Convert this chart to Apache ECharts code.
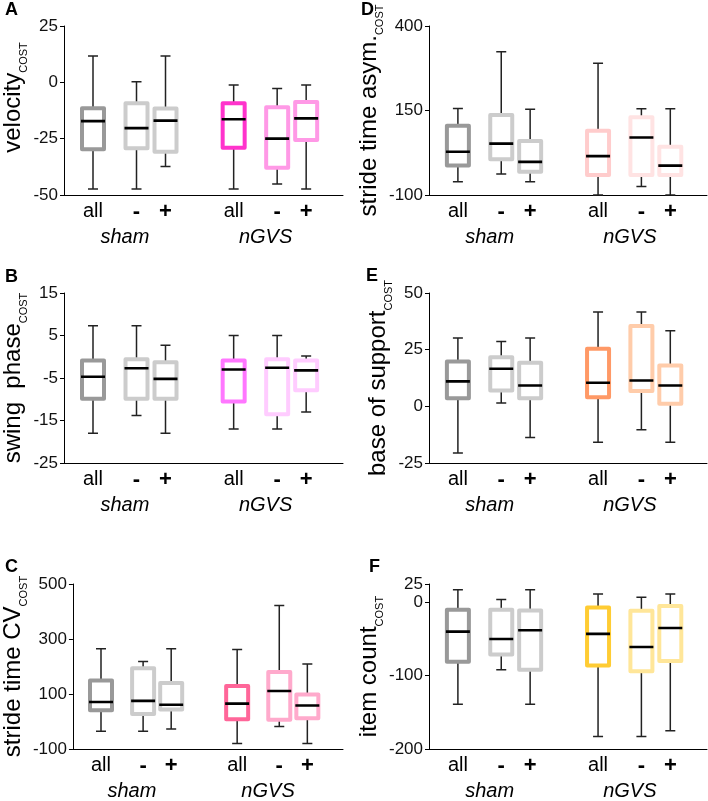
<!DOCTYPE html>
<html><head><meta charset="utf-8">
<script src="https://cdn.jsdelivr.net/npm/echarts@6/dist/echarts.min.js"></script>
<style>html,body{margin:0;padding:0;background:#fff}#c{width:708px;height:801px}</style>
</head><body><div id="c"></div>
<script>
// categories
const groupLabels = ['sham', 'nGVS'];
const condLabels = ['all', '-', '+'];
const xPositions = [1, 2.5, 3.5, 5.85, 7.35, 8.35];
const groupLabelPositions = [2.1, 6.95];
const xMax = 9.62;

// each box: [min, Q1, median, Q3, max]; order sham all,-,+, nGVS all,-,+
const velocity = [
  [-47.3, -29.7, -17.2, -11.5, 11.7],
  [-47.3, -29.3, -20.3, -9.3, 0.3],
  [-37.4, -30.8, -17, -11.6, 11.7],
  [-47.3, -29, -16.4, -9.3, -1.2],
  [-45.1, -37.9, -25, -11.1, -2.7],
  [-47.3, -25.6, -16, -8.7, -1.2]
];
const swingPhase = [
  [-18, -9.9, -4.7, -0.9, 7.3],
  [-13.8, -9.9, -2.7, -0.6, 7.3],
  [-18, -9.9, -5.2, -1.3, 2.7],
  [-17, -10.5, -3.0, -0.9, 5],
  [-17, -13.5, -2.6, -0.6, 5],
  [-13, -7.9, -3.2, -0.9, 0.2]
];
const strideCV = [
  [-35, 41, 71, 149, 265],
  [-35, 27, 75, 194, 218],
  [-27, 44, 61, 140, 265],
  [-80, 8, 65, 129, 262],
  [-18, 6, 111, 180, 422],
  [-80, 12, 58, 98, 209]
];
const strideAsym = [
  [-61, -13, 28, 105, 156],
  [-38, 6, 52, 137, 324],
  [-61, -31, -2, 60, 154],
  [-100, -41, 15, 90, 290],
  [-75, -41, 70, 130, 155],
  [-100, -41, -13, 43, 155]
];
const baseSupport = [
  [-20.6, 3.6, 11, 19.8, 30.1],
  [1.5, 7, 16.6, 21.7, 28.6],
  [-13.8, 3.6, 9.2, 19.2, 30.1],
  [-15.9, 4, 10.4, 25.4, 41.6],
  [-10.3, 6.8, 11.4, 35.4, 41.6],
  [-15.9, 1.1, 9.2, 18, 33.4]
];
const itemCount = [
  [-139, -81, -40, -10, 17],
  [-92, -71, -50, -10, 4],
  [-139, -92, -38, -11, 17],
  [-183, -86, -43, -7, 11.5],
  [-183, -94, -61, -11.5, 7],
  [-175, -80, -35, -5, 11.5]
];

// tick labels
const velocityTicks = [-50, -25, 0, 25];
const swingTicks = [-25, -15, -5, 5, 15];
const cvTicks = [-100, 100, 300, 500];
const asymTicks = [-100, 150, 400];
const bosTicks = [-25, 0, 25, 50];
const itemTicks = [-200, -100, 0, 25];

const FONT = '"Liberation Sans", Arial, Helvetica, sans-serif';
const shamColors = ['#999999', '#cccccc', '#cccccc'];

const panels = [
  { letter: 'A', name: 'velocity', data: velocity, ticks: velocityTicks, col: 0, row: 0, nameGap: 25, namePad: [0, 0, 0, 26], colors: ['#ff33cc', '#ff99e6', '#ff99e6'] },
  { letter: 'B', name: 'swing  phase', data: swingPhase, ticks: swingTicks, col: 0, row: 1, nameGap: 25, namePad: [0, 0, 0, 0], colors: ['#ff77ff', '#ffccff', '#ffccff'] },
  { letter: 'C', name: 'stride time CV', data: strideCV, ticks: cvTicks, col: 0, row: 2, nameGap: 24, namePad: [0, 0, 0, 0], colors: ['#ff6699', '#ffaacc', '#ffaacc'] },
  { letter: 'D', name: 'stride time asym.', data: strideAsym, ticks: asymTicks, col: 1, row: 0, nameGap: 35, namePad: [0, 0, 0, 0], colors: ['#ffcccc', '#ffe3e3', '#ffe3e3'] },
  { letter: 'E', name: 'base of support', data: baseSupport, ticks: bosTicks, col: 1, row: 1, nameGap: 35, namePad: [0, 0, 0, 0], colors: ['#ff9966', '#ffccaa', '#ffccaa'] },
  { letter: 'F', name: 'item count', data: itemCount, ticks: itemTicks, col: 1, row: 2, nameGap: 35, namePad: [0, 0, 0, 0], colors: ['#ffcc33', '#ffe699', '#ffe699'] }
];

const colLeft = [64, 429], colWidth = [279, 278];
const rowTop = [26, 293, 584], rowHeight = [169, 170, 169];
const letterPos = [[5, 1], [5, 268], [5, 558], [361, 1], [366, 267], [369, 558]];

const grids = [], xAxes = [], yAxes = [], series = [], graphics = [];

panels.forEach((p, i) => {
  grids.push({ left: colLeft[p.col], top: rowTop[p.row], width: colWidth[p.col], height: rowHeight[p.row] });
  const xa = xAxes.length;
  xAxes.push({
    type: 'value', gridIndex: i, min: 0, max: xMax,
    axisLine: { show: true, onZero: false, lineStyle: { color: '#000', width: 1 } },
    axisTick: { show: false }, splitLine: { show: false },
    axisLabel: {
      customValues: xPositions, margin: 6, fontSize: 20, color: '#000', fontFamily: FONT,
      formatter: v => { const k = xPositions.indexOf(v); const t = condLabels[k % 3]; return k % 3 === 0 ? t : '{b|' + t + '}'; },
      rich: { b: { fontWeight: 'bold', fontSize: 22, fontFamily: FONT, color: '#000' } }
    }
  });
  xAxes.push({
    type: 'value', gridIndex: i, min: 0, max: xMax, position: 'bottom', offset: 26,
    axisLine: { show: false, onZero: false }, axisTick: { show: false }, splitLine: { show: false },
    axisLabel: {
      customValues: groupLabelPositions, margin: 6, fontSize: 20, fontStyle: 'italic', color: '#000', fontFamily: FONT,
      formatter: v => groupLabels[groupLabelPositions.indexOf(v)]
    }
  });
  xAxes.push({ type: 'value', gridIndex: i, min: 0, max: xMax, show: false, axisLine: { onZero: false } });

  yAxes.push({
    type: 'value', gridIndex: i, min: p.ticks[0], max: p.ticks[p.ticks.length - 1],
    axisLine: { show: true, onZero: false, lineStyle: { color: '#000', width: 1 } },
    axisTick: { show: true, length: 4, customValues: p.ticks, lineStyle: { color: '#000' } },
    axisLabel: { customValues: p.ticks, fontSize: 17, color: '#111', margin: 6, fontFamily: FONT },
    splitLine: { show: false },
    name: '{n|' + p.name + '}{s|COST}', nameLocation: 'middle', nameGap: p.nameGap,
    nameTextStyle: {
      fontFamily: FONT, color: '#000', padding: p.namePad,
      rich: {
        n: { fontSize: 24, lineHeight: 32, fontFamily: FONT, color: '#000' },
        s: { fontSize: 11, lineHeight: 11, verticalAlign: 'bottom', fontFamily: FONT, color: '#000' }
      }
    }
  });

  const colors = shamColors.concat(p.colors);
  // whiskers
  series.push({
    type: 'boxplot', xAxisIndex: xa + 1, yAxisIndex: i, z: 2, silent: true, animation: false,
    boxWidth: [10, 10], emphasis: { disabled: true },
    itemStyle: { color: 'transparent', borderColor: '#222', borderWidth: 1.5 },
    data: p.data.map((d, k) => [xPositions[k], d[0], d[1], d[2], d[3], d[4]])
  });
  // coloured boxes
  series.push({
    type: 'boxplot', xAxisIndex: xa + 2, yAxisIndex: i, z: 3, silent: true, animation: false,
    boxWidth: [22, 22], emphasis: { disabled: true },
    itemStyle: { color: '#fff', borderWidth: 4, borderJoin: 'round' },
    data: p.data.map((d, k) => ({
      value: [xPositions[k], d[1], d[1], d[1], d[3], d[3]],
      itemStyle: { color: '#fff', borderColor: colors[k], borderWidth: 4, borderJoin: 'round' }
    }))
  });
  // medians
  series.push({
    type: 'boxplot', xAxisIndex: xa, yAxisIndex: i, z: 4, silent: true, animation: false,
    boxWidth: [24, 24], emphasis: { disabled: true },
    itemStyle: { color: '#000', borderColor: '#000', borderWidth: 2.6 },
    data: p.data.map((d, k) => [xPositions[k], d[2], d[2], d[2], d[2], d[2]])
  });

  graphics.push({
    type: 'text', left: letterPos[i][0], top: letterPos[i][1],
    style: { text: p.letter, font: 'bold 18px ' + FONT, fill: '#000' }
  });
});

const chart = echarts.init(document.getElementById('c'), null, { renderer: 'canvas' });
chart.setOption({
  animation: false,
  backgroundColor: '#fff',
  grid: grids, xAxis: xAxes, yAxis: yAxes, series: series, graphic: graphics
});
</script></body></html>
